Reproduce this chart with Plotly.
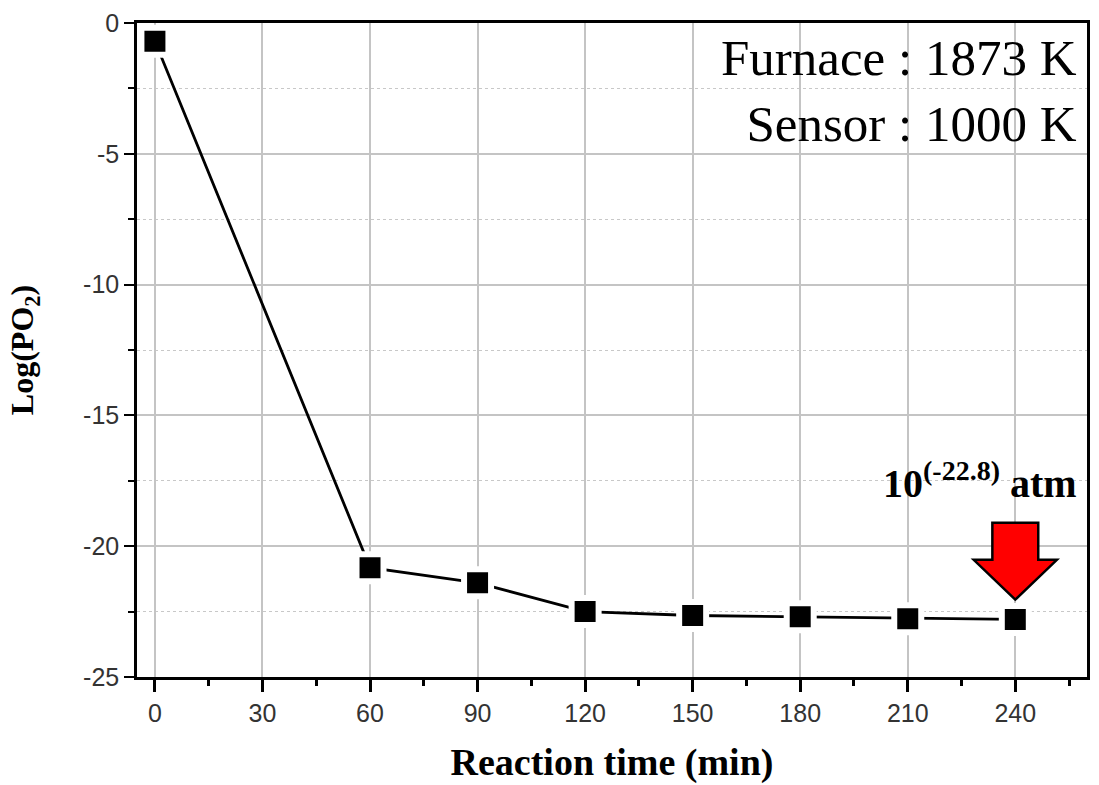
import plotly.graph_objects as go

# Data
time_min = [0, 60, 90, 120, 150, 180, 210, 240]
log_po2 = [-0.7, -20.82, -21.4, -22.5, -22.65, -22.7, -22.77, -22.8]

x_ticks = [0, 30, 60, 90, 120, 150, 180, 210, 240]
y_ticks = [-25, -20, -15, -10, -5, 0]

fig = go.Figure()

fig.add_trace(go.Scatter(
    x=time_min, y=log_po2, mode="lines+markers",
    line=dict(color="black", width=2.8),
    marker=dict(symbol="square", size=27, color="black",
                line=dict(color="white", width=6)),
    showlegend=False, hoverinfo="skip",
))

# red arrow pointing at the last point (offsets relative to the data point)
ax_x = time_min[-1]
ax_y = log_po2[-1]
tip = ax_y + 0.76
head = ax_y + 2.28
top = ax_y + 3.7
sw = 6.4
hw = 11.6
path = (f"M {ax_x} {tip} L {ax_x-hw} {head} L {ax_x-sw} {head} L {ax_x-sw} {top} "
        f"L {ax_x+sw} {top} L {ax_x+sw} {head} L {ax_x+hw} {head} Z")
fig.add_shape(type="path", path=path, xref="x", yref="y",
              fillcolor="#ff0000", line=dict(color="black", width=2.5))

serif = "Liberation Serif, Times New Roman, serif"

fig.add_annotation(x=1.0, y=0.992, xref="paper", yref="paper",
                   xanchor="right", yanchor="top", align="right", showarrow=False,
                   xshift=-8,
                   text="Furnace : 1873 K<br>Sensor : 1000 K",
                   font=dict(family=serif, size=51, color="black"))

fig.add_annotation(x=1.0, y=0.30, xref="paper", yref="paper",
                   xanchor="right", yanchor="middle", showarrow=False, xshift=-8,
                   text="<b>10<sup>(-22.8)</sup> atm</b>",
                   font=dict(family=serif, size=40, color="black"))

axis_font = dict(family="Liberation Sans, Arial, sans-serif", size=25, color="#333333")

fig.update_xaxes(
    range=[-5, 260], tickvals=x_ticks, ticktext=[str(v) for v in x_ticks],
    ticks="outside", ticklen=12, tickwidth=3, tickcolor="black",
    showline=True, linecolor="black", linewidth=2.5, mirror=True,
    showgrid=True, gridcolor="#c4c4c4", gridwidth=1.5,
    zeroline=False, tickfont=axis_font,
    minor=dict(dtick=15, tick0=0, ticks="outside", ticklen=6, tickwidth=3,
               tickcolor="black", showgrid=False),
    title=dict(text="<b>Reaction time (min)</b>", standoff=23,
               font=dict(family=serif, size=38, color="black")),
)
fig.update_yaxes(
    range=[-25, 0], tickvals=y_ticks, ticktext=[str(v) for v in y_ticks],
    ticks="outside", ticklen=10, tickwidth=2, tickcolor="black",
    showline=True, linecolor="black", linewidth=2.5, mirror=True,
    showgrid=True, gridcolor="#c4c4c4", gridwidth=1.5,
    zeroline=False, tickfont=axis_font,
    minor=dict(dtick=2.5, tick0=0, ticks="outside", ticklen=6, tickwidth=2,
               tickcolor="black", showgrid=True, gridcolor="#c8c8c8",
               griddash="dot", gridwidth=1),
    title=dict(text="<b>Log(PO<sub>2</sub>)</b>", standoff=40,
               font=dict(family=serif, size=32, color="black")),
)

fig.update_layout(
    width=1099, height=785,
    margin=dict(l=137, r=9, t=20, b=107),
    plot_bgcolor="white", paper_bgcolor="white",
)

fig.write_html("out.html")
